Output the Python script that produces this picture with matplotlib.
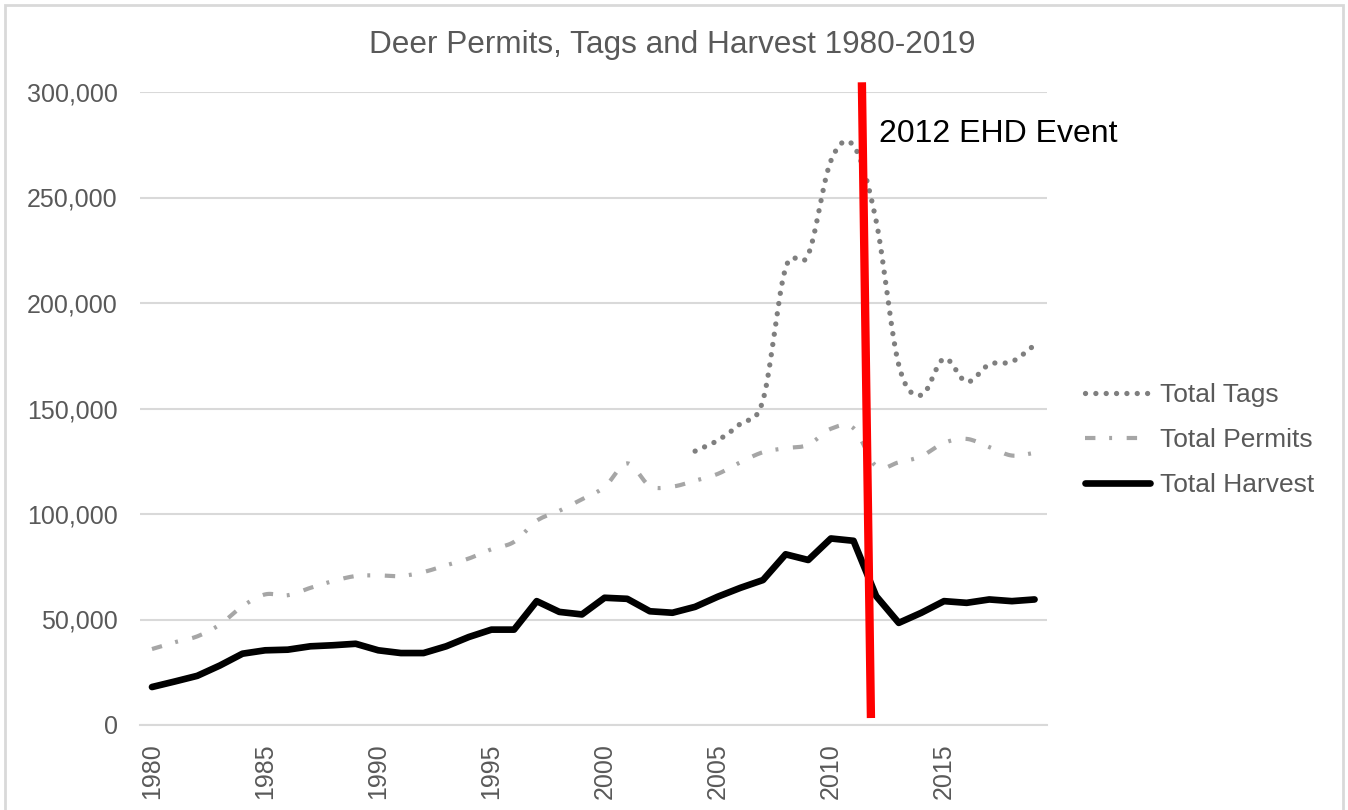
import numpy as np
import matplotlib
matplotlib.use("Agg")
import matplotlib.pyplot as plt
from matplotlib.patches import Rectangle

plt.rcParams['font.family'] = ['Liberation Sans', 'DejaVu Sans']

years = list(range(1980, 2020))
harvest = [18000, 20600, 23300, 28200, 33800, 35400, 35700, 37300, 37800, 38500,
           35400, 34100, 34100, 37300, 41700, 45200, 45200, 58700, 53600, 52400,
           60300, 59800, 53900, 53200, 56000, 60800, 65000, 68700, 80900, 78200,
           88400, 87300, 61100, 48400, 53200, 58700, 57900, 59500, 58700, 59500]
permits = [36000, 39200, 42000, 47600, 56300, 61900, 61500, 65000, 68200, 70600,
           70900, 70600, 72500, 75700, 78900, 83300, 86800, 96800, 101500, 107000,
           112800, 124000, 113300, 113000, 115800, 119000, 124500, 129300, 131200, 132800,
           140400, 140700, 122600, 124500, 127400, 133700, 135600, 131700, 127700, 129000]
tag_years = list(range(2004, 2020))
tags = [129800, 134900, 142800, 153900, 216600, 222900, 267400, 274600, 238900, 170600,
        156300, 173700, 162600, 170900, 172200, 180100]

event_x = [2011.37, 2011.77]
event_y = [304600, 3300]
event_label = "2012 EHD Event"
title = "Deer Permits, Tags and Harvest 1980-2019"


def smooth(x, y, n=12):
    # Catmull-Rom style smoothing for display (like Excel "smoothed line")
    x = np.asarray(x, float)
    y = np.asarray(y, float)
    px = np.concatenate([[2 * x[0] - x[1]], x, [2 * x[-1] - x[-2]]])
    py = np.concatenate([[2 * y[0] - y[1]], y, [2 * y[-1] - y[-2]]])
    outx, outy = [], []
    t = np.linspace(0, 1, n, endpoint=False)
    for i in range(1, len(px) - 2):
        p0, p1, p2, p3 = py[i - 1], py[i], py[i + 1], py[i + 2]
        q0, q1, q2, q3 = px[i - 1], px[i], px[i + 1], px[i + 2]
        cy = 0.5 * ((2 * p1) + (-p0 + p2) * t + (2 * p0 - 5 * p1 + 4 * p2 - p3) * t ** 2 + (-p0 + 3 * p1 - 3 * p2 + p3) * t ** 3)
        cx = 0.5 * ((2 * q1) + (-q0 + q2) * t + (2 * q0 - 5 * q1 + 4 * q2 - q3) * t ** 2 + (-q0 + 3 * q1 - 3 * q2 + q3) * t ** 3)
        outx.extend(cx)
        outy.extend(cy)
    outx.append(x[-1])
    outy.append(y[-1])
    return np.array(outx), np.array(outy)


W, H = 1348, 810
fig = plt.figure(figsize=(W / 100, H / 100), dpi=100)
ax = fig.add_axes([140 / W, 1 - 725 / H, (1047 - 140) / W, (725 - 92) / H])

grid_c = '#d9d9d9'
text_c = '#595959'

tx, ty = smooth(tag_years, tags)
px_, py_ = smooth(years, permits)

l_tags, = ax.plot(tx, ty, color='#7f7f7f', lw=3.8, linestyle=(0, (0.01, 1.95)),
                  dash_capstyle='round', label='Total Tags', zorder=3)
l_perm, = ax.plot(px_, py_, color='#a6a6a6', lw=3.0, linestyle=(0, (2.5, 3.3, 0.7, 3.5)),
                  dash_capstyle='butt', label='Total Permits', zorder=3)
l_harv, = ax.plot(years, harvest, color='black', lw=4.8, solid_joinstyle='round',
                  solid_capstyle='round', label='Total Harvest', zorder=4)

ax.plot(event_x, event_y, color='#ff0000', lw=6, solid_capstyle='butt', zorder=5, clip_on=False)
ax.text(2012.14, 280000, event_label, fontsize=23, color='black', va='center', ha='left', zorder=6)

ax.set_xlim(1979.47, 2019.55)
ax.set_ylim(0, 300000)
ax.set_yticks(range(0, 300001, 50000))
ax.set_yticklabels([f"{v:,}" for v in range(0, 300001, 50000)])
ax.set_xticks(range(1980, 2016, 5))
ax.set_xticklabels([str(v) for v in range(1980, 2016, 5)], rotation=90)
ax.tick_params(axis='both', length=0, labelsize=18, labelcolor=text_c)
ax.tick_params(axis='y', pad=16)
ax.tick_params(axis='x', pad=13)
ax.yaxis.grid(True, color=grid_c, lw=1.5)
ax.set_axisbelow(True)
for s in ['top', 'right', 'left']:
    ax.spines[s].set_visible(False)
ax.spines['bottom'].set_color(grid_c)
ax.spines['bottom'].set_linewidth(1.5)

fig.text(672 / W, 1 - 45 / H, title, fontsize=22.7, color=text_c, ha='center', va='center')

leg = fig.legend(handles=[l_tags, l_perm, l_harv], loc='center left',
                 bbox_to_anchor=(1072 / W, 1 - 440 / H), frameon=False, fontsize=19,
                 handlelength=2.45, handletextpad=0.4, labelspacing=0.8, borderpad=0)
for t in leg.get_texts():
    t.set_color(text_c)

fig.patches.append(Rectangle((5 / W, -0.01), (1343 - 5) / W, 1 - 5 / H + 0.01,
                             transform=fig.transFigure, fill=False, edgecolor='#d9d9d9', lw=2))

fig.savefig('out.png', dpi=100)
